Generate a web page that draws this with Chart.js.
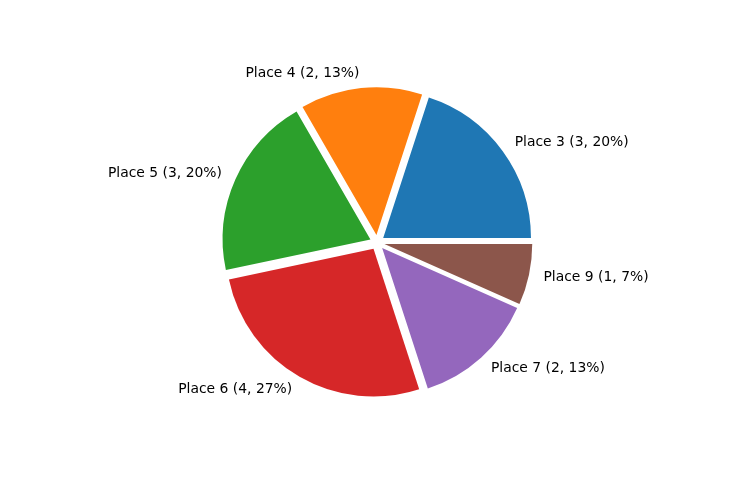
<!DOCTYPE html>
<html>
<head>
<meta charset="utf-8">
<script src="https://cdn.jsdelivr.net/npm/chart.js@4/dist/chart.umd.min.js"></script>
<style>
  html, body { margin: 0; padding: 0; background: #fff; }
  #wrap { width: 736px; height: 480px; }
</style>
</head>
<body>
<div id="wrap"><canvas id="pieChart" width="736" height="480"></canvas></div>
<script>
// values in matplotlib order (counter-clockwise from 3 o'clock)
const places = ["Place 3", "Place 4", "Place 5", "Place 6", "Place 7", "Place 9"];
const counts = [3, 2, 3, 4, 2, 1];
const colors = ["#1f77b4", "#ff7f0e", "#2ca02c", "#d62728", "#9467bd", "#8c564b"];

const explode = 0.05;
const labelDistance = 1.1;
const pieRadius = 147.8;

// Chart.js goes clockwise, so reverse to keep the same layout
const labels = places.slice().reverse();
const data = counts.slice().reverse();
const bg = colors.slice().reverse();
const total = data.reduce((a, v) => a + v, 0);

const explodePlugin = {
  id: "explode",
  afterDatasetUpdate(chart, args) {
    args.meta.data.forEach(arc => {
      const mid = (arc.startAngle + arc.endAngle) / 2;
      const d = explode * arc.outerRadius;
      arc.x += Math.cos(mid) * d;
      arc.y += Math.sin(mid) * d;
    });
  }
};

const labelPlugin = {
  id: "sliceLabels",
  afterDraw(chart) {
    const ctx = chart.ctx;
    const meta = chart.getDatasetMeta(0);
    ctx.save();
    ctx.font = '13.9px "DejaVu Sans"';
    ctx.fillStyle = "#000";
    ctx.textBaseline = "middle";
    meta.data.forEach((arc, i) => {
      const mid = (arc.startAngle + arc.endAngle) / 2;
      const r = arc.outerRadius * labelDistance;
      const x = arc.x + Math.cos(mid) * r;
      const y = arc.y + Math.sin(mid) * r;
      const v = data[i];
      const pct = Math.round(v / total * 100);
      ctx.textAlign = Math.cos(mid) > 0 ? "left" : "right";
      ctx.fillText(`${labels[i]} (${v}, ${pct}%)`, x, y);
    });
    ctx.restore();
  }
};

new Chart(document.getElementById("pieChart").getContext("2d"), {
  type: "pie",
  data: {
    labels: labels,
    datasets: [{
      data: data,
      backgroundColor: bg,
      borderWidth: 0
    }]
  },
  options: {
    responsive: false,
    animation: false,
    events: [],
    rotation: 90,
    radius: pieRadius,
    layout: { padding: { left: 18.4, top: 4.8, right: 0, bottom: 0 } },
    plugins: {
      legend: { display: false },
      tooltip: { enabled: false }
    }
  },
  plugins: [explodePlugin, labelPlugin]
});
</script>
</body>
</html>
